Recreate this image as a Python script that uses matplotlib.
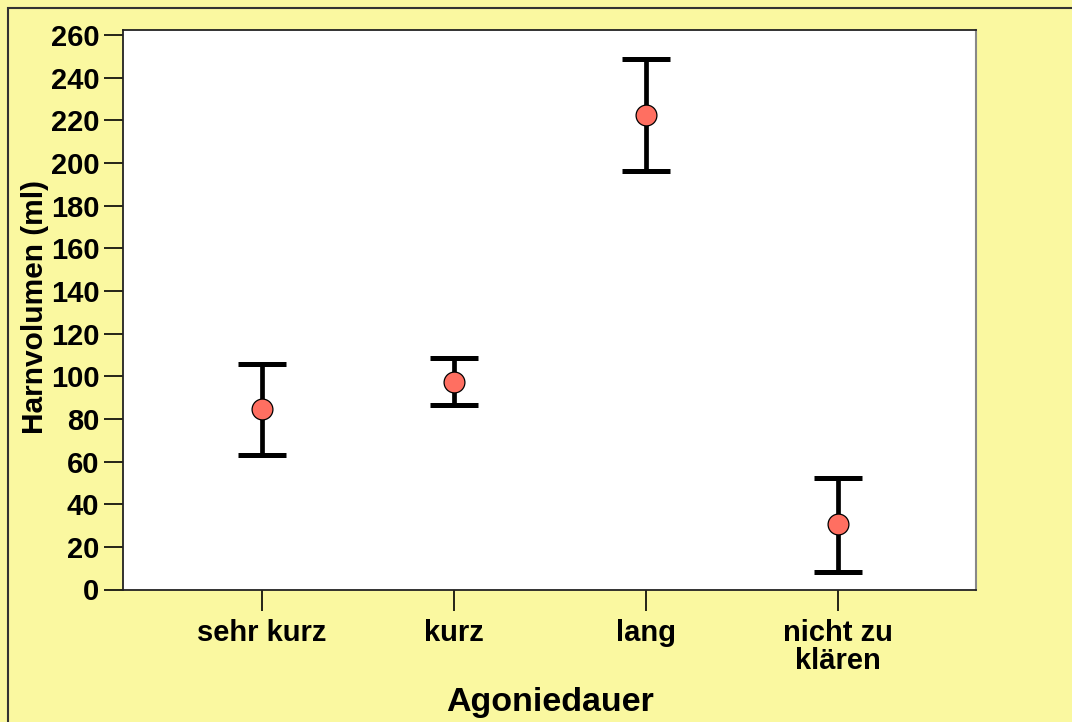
import matplotlib
matplotlib.use('Agg')
import matplotlib.pyplot as plt
import matplotlib.patches as mpatches
import numpy as np

# Data
categories = ['sehr kurz', 'kurz', 'lang', 'nicht zu\nklären']
means = [84.5, 97.1, 222.4, 30.5]
upper = [105.6, 108.4, 248.7, 52.1]
lower = [62.9, 86.3, 196.2, 8.4]
yticks = list(range(0, 261, 20))

plt.rcParams['font.family'] = ['Liberation Sans', 'DejaVu Sans']
plt.rcParams['font.weight'] = 'bold'

bg = '#FAF8A0'
fig = plt.figure(figsize=(10.72, 7.22), dpi=100)
fig.patch.set_facecolor(bg)

# frame around the whole chart (top and left edges visible)
W, H = 1072, 722
fig.patches.append(mpatches.Rectangle((8 / W, -0.1), 1.2, (H - 8) / H + 0.1,
                                      transform=fig.transFigure, fill=False,
                                      edgecolor='#333333', linewidth=1.5))

ax = fig.add_axes([123 / W, (H - 589.5) / H, (976 - 123) / W, (589.5 - 30) / H])
ax.set_facecolor('white')

x = np.arange(1, len(categories) + 1)
m = np.array(means)
err = np.vstack([m - np.array(lower), np.array(upper) - m])
_, caps, _ = ax.errorbar(x, m, yerr=err, fmt='o', color='black', ecolor='black',
                         elinewidth=3.4, capsize=17, capthick=3.4,
                         markersize=15, markerfacecolor='#FF6F61',
                         markeredgecolor='black', markeredgewidth=0.9, zorder=3)
for cap in caps:
    cap.set_markeredgewidth(3.6)

ax.set_xlim(0.276, 4.72)
ax.set_ylim(0, 262.3)
ax.set_xticks(x)
ax.set_xticklabels(categories)
ax.set_yticks(yticks)

ax.tick_params(axis='y', direction='out', length=14, width=1.2, pad=3, labelsize=21)
ax.tick_params(axis='x', direction='out', length=15, width=1.2, pad=6, labelsize=21)
for lab in ax.get_xticklabels() + ax.get_yticklabels():
    lab.set_fontweight('bold')
for lab in ax.get_xticklabels():
    lab.set_linespacing(1.0)

for side in ['left', 'bottom', 'top']:
    ax.spines[side].set_color('#222222')
    ax.spines[side].set_linewidth(1.3)
ax.spines['right'].set_color('#888888')
ax.spines['right'].set_linewidth(1.5)

fig.text(35 / W, 1 - 307 / H, 'Harnvolumen (ml)', rotation=90, ha='center',
         va='center', fontsize=21.5, fontweight='bold')
fig.text(550 / W, 1 - 703 / H, 'Agoniedauer', ha='center', va='center',
         fontsize=24.5, fontweight='bold')

fig.savefig('out.png', dpi=100, facecolor=bg)
